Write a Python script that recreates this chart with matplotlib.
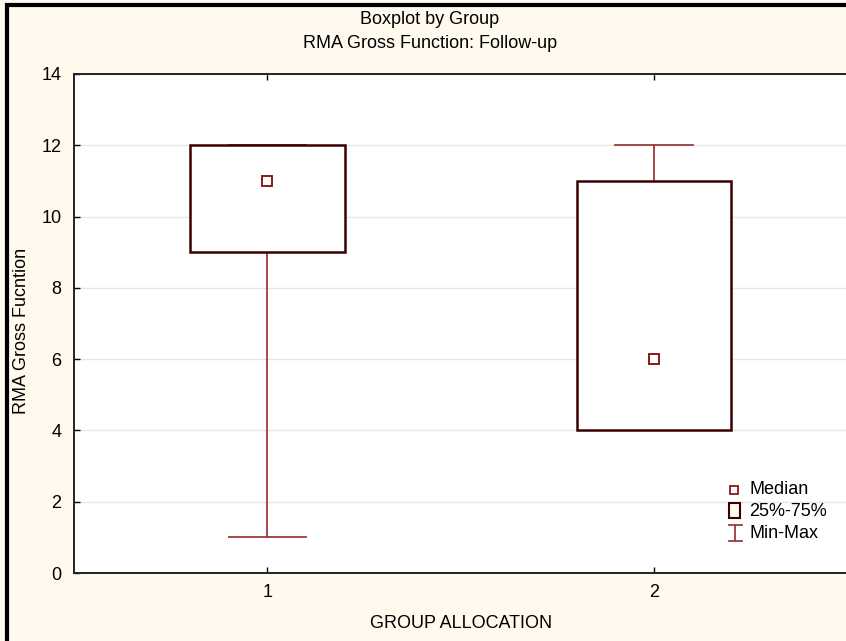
import matplotlib
matplotlib.use("Agg")
import matplotlib.pyplot as plt
from matplotlib.patches import Rectangle
from matplotlib.lines import Line2D

# ---- data ----
groups = [1, 2]
group_labels = ["1", "2"]
q1 = [9, 4]
q3 = [12, 11]
medians = [11, 6]
mins = [1, 4]
maxs = [12, 12]
yticks = [0, 2, 4, 6, 8, 10, 12, 14]

plt.rcParams['font.family'] = ['Liberation Sans', 'DejaVu Sans']
FS = 13

W, H = 846, 641
fig = plt.figure(figsize=(W / 100, H / 100), dpi=100)
cream = '#fff9ee'
fig.patch.set_facecolor(cream)


def fx(x):
    return x / W


def fy(y):
    return 1 - y / H


# outer frame: left and top edges only (rest is cropped away)
fig.add_artist(Line2D([fx(6.5), fx(6.5), 1.01], [-0.01, fy(5), fy(5)], color='black',
                      linewidth=3.0, solid_joinstyle='miter', transform=fig.transFigure, zorder=0))

left, right = 74, 847.5
bottom, top = 573, 74
ax = fig.add_axes([left / W, (H - bottom) / H, (right - left) / W, (bottom - top) / H])
ax.set_facecolor('white')

box_col = '#3a0000'
wh_col = '#9c3a3a'
med_col = '#8b1a1a'

stats = []
for i in range(len(groups)):
    stats.append(dict(med=medians[i], q1=q1[i], q3=q3[i], whislo=mins[i], whishi=maxs[i],
                      fliers=[], label=group_labels[i]))

ax.bxp(stats, positions=groups, widths=0.4, capwidths=0.2, showfliers=False,
       patch_artist=True,
       boxprops=dict(facecolor='white', edgecolor=box_col, linewidth=1.8, zorder=3),
       whiskerprops=dict(color=wh_col, linewidth=1.3, zorder=2),
       capprops=dict(color=wh_col, linewidth=1.3, zorder=2),
       medianprops=dict(visible=False))
ax.plot(groups, medians, linestyle='none', marker='s', markersize=6.5,
        markerfacecolor='white', markeredgecolor=med_col, markeredgewidth=1.4, zorder=5)

ax.set_xlim(0.5, 2.5)
ax.set_ylim(0, 14)
ax.set_yticks(yticks)
ax.set_xticks(groups)
ax.set_xticklabels(group_labels)
ax.yaxis.grid(True, color='#e6e6e6', linewidth=1.0, zorder=0)
ax.set_axisbelow(True)
ax.tick_params(direction='in', length=4, width=1, colors='black', labelsize=FS,
               top=True, right=False, labeltop=False)
ax.tick_params(axis='y', pad=9)
ax.tick_params(axis='x', pad=8)
for s in ['left', 'bottom', 'top']:
    ax.spines[s].set_color('#222222')
    ax.spines[s].set_linewidth(1.4)
ax.spines['right'].set_visible(False)

fig.text(fx(461), fy(623), 'GROUP ALLOCATION', ha='center', va='center', fontsize=FS)
fig.text(fx(22), fy(331), 'RMA Gross Fucntion', ha='center', va='center', rotation=90, fontsize=FS)

cx = fx(430)
fig.text(cx, fy(19), 'Boxplot by Group', ha='center', va='center', fontsize=FS)
fig.text(cx, fy(44), 'RMA Gross Function: Follow-up', ha='center', va='center', fontsize=FS)

# legend (manual, in figure pixel coords)
fig.add_artist(Line2D([fx(734)], [fy(490)], marker='s', markersize=6, markerfacecolor='white',
                      markeredgecolor=med_col, markeredgewidth=1.3, linestyle='none',
                      transform=fig.transFigure))
fig.add_artist(Rectangle((fx(729), fy(518)), 11 / W, 15 / H, transform=fig.transFigure,
                         facecolor=cream, edgecolor=box_col, linewidth=1.5))
fig.add_artist(Line2D([fx(735), fx(735)], [fy(525), fy(541)], color=wh_col, linewidth=1.3,
                      transform=fig.transFigure))
for yy in (525, 541):
    fig.add_artist(Line2D([fx(729), fx(742)], [fy(yy), fy(yy)], color=wh_col, linewidth=1.3,
                          transform=fig.transFigure))
fig.text(fx(749), fy(490), 'Median', ha='left', va='center', fontsize=FS)
fig.text(fx(749), fy(512), '25%-75%', ha='left', va='center', fontsize=FS)
fig.text(fx(749), fy(533), 'Min-Max', ha='left', va='center', fontsize=FS)

fig.savefig('out.png', dpi=100, facecolor=cream)
